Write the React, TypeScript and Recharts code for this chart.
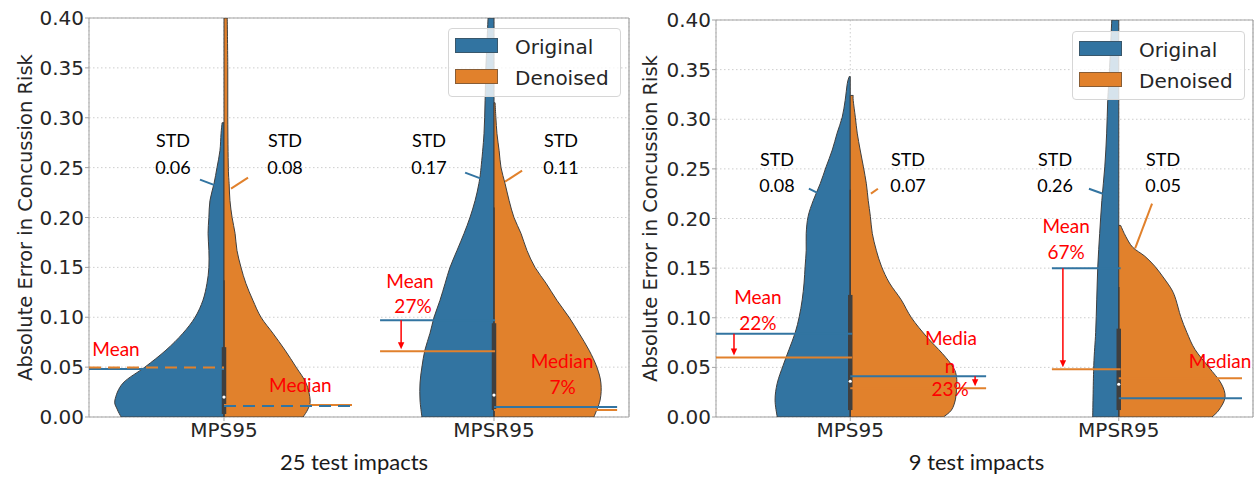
import React from 'react';
import { ComposedChart, Scatter, XAxis, YAxis, CartesianGrid, ReferenceLine, Legend } from 'recharts';

// ---------- data ----------
const categories = ['MPS95', 'MPSR95'];
const seriesNames = ['Original', 'Denoised'];
const yTicks = [0, 0.05, 0.1, 0.15, 0.2, 0.25, 0.3, 0.35, 0.4];
const panelTitles = ['25 test impacts', '9 test impacts'];

// Violin half profiles: [absolute error, half width in category units]
type Profile = [number, number][];

const mps95Original25: Profile = [
  [0, 0.381], [0.008, 0.396], [0.017, 0.404], [0.034, 0.374], [0.05, 0.293], [0.067, 0.215],
  [0.084, 0.152], [0.1, 0.107], [0.117, 0.078], [0.134, 0.063], [0.15, 0.056], [0.167, 0.056],
  [0.184, 0.059], [0.2, 0.056], [0.217, 0.052], [0.234, 0.037], [0.25, 0.026], [0.267, 0.015],
  [0.284, 0.011], [0.295, 0.007],
];
const mps95Denoised25: Profile = [
  [0, 0.293], [0.008, 0.311], [0.017, 0.319], [0.034, 0.304], [0.05, 0.267], [0.067, 0.226],
  [0.084, 0.181], [0.1, 0.137], [0.117, 0.107], [0.134, 0.081], [0.15, 0.063], [0.167, 0.048],
  [0.184, 0.041], [0.2, 0.03], [0.217, 0.022], [0.234, 0.019], [0.25, 0.016], [0.3, 0.014],
  [0.35, 0.014], [0.4, 0.012],
];
const mpsr95Original25: Profile = [
  [0, 0.267], [0.017, 0.274], [0.034, 0.274], [0.05, 0.267], [0.067, 0.256], [0.084, 0.237],
  [0.1, 0.222], [0.117, 0.2], [0.134, 0.181], [0.15, 0.163], [0.167, 0.137], [0.184, 0.111],
  [0.2, 0.089], [0.217, 0.07], [0.234, 0.056], [0.25, 0.048], [0.284, 0.037], [0.317, 0.033],
  [0.35, 0.03], [0.4, 0.022],
];
const mpsr95Denoised25: Profile = [
  [0, 0.37], [0.017, 0.393], [0.034, 0.396], [0.05, 0.381], [0.067, 0.352], [0.084, 0.315],
  [0.1, 0.278], [0.117, 0.233], [0.134, 0.193], [0.15, 0.152], [0.167, 0.122], [0.184, 0.1],
  [0.2, 0.074], [0.217, 0.056], [0.234, 0.041], [0.25, 0.026], [0.267, 0.019], [0.284, 0.011],
  [0.3, 0.007], [0.315, 0.004],
];
const mps95Original9: Profile = [
  [0, 0.272], [0.017, 0.28], [0.034, 0.272], [0.052, 0.25], [0.068, 0.228], [0.085, 0.205],
  [0.101, 0.19], [0.118, 0.179], [0.135, 0.172], [0.152, 0.168], [0.168, 0.164], [0.185, 0.164],
  [0.202, 0.157], [0.218, 0.138], [0.235, 0.112], [0.252, 0.09], [0.269, 0.067], [0.286, 0.049],
  [0.302, 0.03], [0.319, 0.019], [0.336, 0.011], [0.343, 0.004],
];
const mps95Denoised9: Profile = [
  [0, 0.347], [0.007, 0.377], [0.018, 0.392], [0.03, 0.396], [0.04, 0.396], [0.05, 0.384],
  [0.064, 0.343], [0.081, 0.284], [0.1, 0.228], [0.118, 0.19], [0.135, 0.146], [0.152, 0.116],
  [0.168, 0.097], [0.185, 0.082], [0.202, 0.075], [0.218, 0.067], [0.235, 0.06], [0.252, 0.049],
  [0.269, 0.037], [0.286, 0.026], [0.302, 0.019], [0.319, 0.011], [0.324, 0.011],
];
const mpsr95Original9: Profile = [
  [0, 0.097], [0.052, 0.093], [0.085, 0.086], [0.118, 0.082], [0.152, 0.078], [0.185, 0.071],
  [0.218, 0.063], [0.252, 0.052], [0.286, 0.045], [0.319, 0.041], [0.352, 0.034], [0.4, 0.026],
];
const mpsr95Denoised9: Profile = [
  [0, 0.347], [0.007, 0.373], [0.02, 0.396], [0.034, 0.381], [0.05, 0.336], [0.068, 0.284],
  [0.085, 0.254], [0.101, 0.231], [0.118, 0.213], [0.128, 0.198], [0.14, 0.168], [0.152, 0.134],
  [0.162, 0.097], [0.171, 0.052], [0.182, 0.026], [0.193, 0.007],
];

// Inner box plots (both groups pooled), one per category
type Box = { low: number; q1: number; median: number; q3: number; high: number };
const box25: Box[] = [
  { low: 0, q1: 0.003, median: 0.02, q3: 0.07, high: 0.137 },
  { low: 0, q1: 0.007, median: 0.022, q3: 0.094, high: 0.21 },
];
const box9: Box[] = [
  { low: 0, q1: 0.007, median: 0.036, q3: 0.123, high: 0.229 },
  { low: 0, q1: 0.007, median: 0.033, q3: 0.089, high: 0.131 },
];

const meanOriginal25 = [0.048, 0.097];
const meanDenoised25 = [0.0495, 0.066];
const medianOriginal25 = [0.011, 0.01];
const medianDenoised25 = [0.012, 0.007];
const meanOriginal9 = [0.084, 0.15];
const meanDenoised9 = [0.06, 0.048];
const medianOriginal9 = [0.041, 0.019];
const medianDenoised9 = [0.029, 0.039];

const stdOriginal25 = [0.06, 0.17];
const stdDenoised25 = [0.08, 0.11];
const stdOriginal9 = [0.08, 0.26];
const stdDenoised9 = [0.07, 0.05];

const meanChange25 = ['', '27%'];
const medianChange25 = ['', '7%'];
const meanChange9 = ['22%', '67%'];
const medianChange9 = ['23%', ''];

// ---------- styling ----------
const BLUE = '#3274a1';
const ORANGE = '#e1812c';
const EDGE = '#3f3f3f';
const SPINE = '#a3a3a3';
const GRID = '#cdcdcd';
const INK = '#262626';
const RED = '#ff0000';
const DEJAVU = "'DejaVu Sans', sans-serif";
const LATO = "Lato, 'Open Sans', sans-serif";
const seriesColors = [BLUE, ORANGE];

type Pt = { x: number; y: number };

const emptyShape = () => <g />;

function halfViolin(profile: Profile, center: number, side: number): Pt[] {
  const edge = profile.map(([v, w]) => ({ x: center + side * w, y: v }));
  return [...edge, { x: center, y: profile[profile.length - 1][0] }, { x: center, y: profile[0][0] }];
}

function violinLine(fill: string) {
  return (props: any) => {
    const pts: Pt[] = (props.points || []).filter((p: Pt) => Number.isFinite(p.x) && Number.isFinite(p.y));
    if (pts.length < 4) return <g />;
    const edge = pts.slice(0, -2);
    let d = `M${edge[0].x},${edge[0].y}`;
    for (let i = 0; i < edge.length - 1; i++) {
      const p0 = edge[Math.max(i - 1, 0)];
      const p1 = edge[i];
      const p2 = edge[i + 1];
      const p3 = edge[Math.min(i + 2, edge.length - 1)];
      d += ` C${p1.x + (p2.x - p0.x) / 6},${p1.y + (p2.y - p0.y) / 6} ${p2.x - (p3.x - p1.x) / 6},${p2.y - (p3.y - p1.y) / 6} ${p2.x},${p2.y}`;
    }
    const top = pts[pts.length - 2];
    const bottom = pts[pts.length - 1];
    d += ` L${top.x},${top.y} L${bottom.x},${bottom.y} Z`;
    return <path d={d} fill={fill} stroke={EDGE} strokeWidth={1} strokeLinejoin="round" />;
  };
}

function segmentLine(stroke: string, width: number, dash?: string) {
  return (props: any) => {
    const pts: Pt[] = props.points || [];
    if (pts.length < 2) return <g />;
    return (
      <path
        d={`M${pts[0].x},${pts[0].y} L${pts[1].x},${pts[1].y}`}
        fill="none"
        stroke={stroke}
        strokeWidth={width}
        strokeDasharray={dash}
      />
    );
  };
}

const arrowLine = (props: any) => {
  const pts: Pt[] = props.points || [];
  if (pts.length < 2) return <g />;
  const [a, b] = pts;
  const tipY = b.y - 2;
  const head = 7;
  return (
    <g>
      <path d={`M${a.x},${a.y} L${b.x},${tipY - head + 1}`} stroke={RED} strokeWidth={1.5} fill="none" />
      <path d={`M${b.x - 3.2},${tipY - head} L${b.x + 3.2},${tipY - head} L${b.x},${tipY} Z`} fill={RED} />
    </g>
  );
};

function textShape(fill: string, size: number) {
  return (props: any) => (
    <text
      x={props.cx}
      y={props.cy}
      textAnchor="middle"
      dominantBaseline="central"
      fontFamily={LATO}
      fontSize={size}
      fill={fill}
    >
      {props.payload?.text}
    </text>
  );
}

const medianDot = (props: any) => <circle cx={props.cx} cy={props.cy} r={1.6} fill="#ffffff" />;

function seg(key: string, a: Pt, b: Pt, stroke: string, width: number, dash?: string) {
  return (
    <Scatter
      key={key}
      data={[a, b]}
      line={segmentLine(stroke, width, dash)}
      shape={emptyShape}
      isAnimationActive={false}
      legendType="none"
    />
  );
}

// ---------- panel layout ----------
type Note = { x: number; y: number; text: string };
type PanelSpec = {
  width: number;
  axisWidth: number;
  top: number;
  title: string;
  titleShift: number;
  yTitleX: number;
  legendLeft: number;
  legendTop: number;
  violins: { original: Profile; denoised: Profile }[];
  boxes: Box[];
  meanOriginal: number[];
  meanDenoised: number[];
  medianOriginal: number[];
  medianDenoised: number[];
  meanSpan: [number, number][];
  medianSpan: [number, number][];
  meanDash: [boolean, boolean][];
  medianDash: [boolean, boolean][];
  arrows: { x: number; from: number; to: number }[];
  stdOriginal: number[];
  stdDenoised: number[];
  stdX: [number, number][];
  stdRows: [number, number];
  stdPointers: [Pt, Pt][][];
  notes: Note[];
};

const panel25: PanelSpec = {
  width: 630,
  axisWidth: 89,
  top: 18,
  title: panelTitles[0],
  titleShift: -5,
  yTitleX: 25,
  legendLeft: 448,
  legendTop: 28,
  violins: [
    { original: mps95Original25, denoised: mps95Denoised25 },
    { original: mpsr95Original25, denoised: mpsr95Denoised25 },
  ],
  boxes: box25,
  meanOriginal: meanOriginal25,
  meanDenoised: meanDenoised25,
  medianOriginal: medianOriginal25,
  medianDenoised: medianDenoised25,
  meanSpan: [[-0.5, 0], [0.578, 1.004]],
  medianSpan: [[0, 0.474], [1.0, 1.456]],
  meanDash: [[false, true], [false, false]],
  medianDash: [[true, false], [false, false]],
  arrows: [{ x: 0.656, from: meanOriginal25[1], to: meanDenoised25[1] }],
  stdOriginal: stdOriginal25,
  stdDenoised: stdDenoised25,
  stdX: [[-0.189, 0.226], [0.759, 1.248]],
  stdRows: [0.2777, 0.2506],
  stdPointers: [
    [[{ x: -0.089, y: 0.238 }, { x: -0.03, y: 0.232 }], [{ x: 0.089, y: 0.24 }, { x: 0.026, y: 0.229 }]],
    [[{ x: 0.893, y: 0.245 }, { x: 0.952, y: 0.239 }], [{ x: 1.104, y: 0.247 }, { x: 1.041, y: 0.236 }]],
  ],
  notes: [
    { x: -0.4, y: 0.069, text: 'Mean' },
    { x: 0.283, y: 0.033, text: 'Median' },
    { x: 0.689, y: 0.137, text: 'Mean' },
    { x: 0.7, y: 0.112, text: meanChange25[1] },
    { x: 1.252, y: 0.057, text: 'Median' },
    { x: 1.254, y: 0.031, text: medianChange25[1] },
  ],
};

const panel9: PanelSpec = {
  width: 624,
  axisWidth: 86,
  top: 20,
  title: panelTitles[1],
  titleShift: -8,
  yTitleX: 20,
  legendLeft: 442,
  legendTop: 31,
  violins: [
    { original: mps95Original9, denoised: mps95Denoised9 },
    { original: mpsr95Original9, denoised: mpsr95Denoised9 },
  ],
  boxes: box9,
  meanOriginal: meanOriginal9,
  meanDenoised: meanDenoised9,
  medianOriginal: medianOriginal9,
  medianDenoised: medianDenoised9,
  meanSpan: [[-0.5, 0.007], [0.751, 1.007]],
  medianSpan: [[0, 0.506], [1.0, 1.459]],
  meanDash: [[false, false], [false, false]],
  medianDash: [[false, false], [false, false]],
  arrows: [
    { x: -0.433, from: meanOriginal9[0], to: meanDenoised9[0] },
    { x: 0.465, from: medianOriginal9[0], to: medianDenoised9[0] },
    { x: 0.792, from: meanOriginal9[1], to: meanDenoised9[1] },
  ],
  stdOriginal: stdOriginal9,
  stdDenoised: stdDenoised9,
  stdX: [[-0.273, 0.215], [0.763, 1.165]],
  stdRows: [0.26, 0.234],
  stdPointers: [
    [[{ x: -0.154, y: 0.23 }, { x: -0.124, y: 0.226 }], [{ x: 0.103, y: 0.23 }, { x: 0.077, y: 0.225 }]],
    [[{ x: 0.889, y: 0.23 }, { x: 0.941, y: 0.225 }], [{ x: 1.124, y: 0.215 }, { x: 1.061, y: 0.17 }]],
  ],
  notes: [
    { x: -0.344, y: 0.121, text: 'Mean' },
    { x: -0.344, y: 0.095, text: meanChange9[0] },
    { x: 0.375, y: 0.08, text: 'Media' },
    { x: 0.372, y: 0.052, text: 'n' },
    { x: 0.372, y: 0.029, text: medianChange9[0] },
    { x: 0.804, y: 0.193, text: 'Mean' },
    { x: 0.804, y: 0.167, text: meanChange9[1] },
    { x: 1.377, y: 0.057, text: 'Median' },
  ],
};

const legendContent = () => (
  <div
    style={{
      position: 'relative',
      boxSizing: 'border-box',
      width: 173,
      height: 69,
      background: 'rgba(255,255,255,0.8)',
      border: '1px solid #d6d6d6',
      borderRadius: 4,
    }}
  >
    {seriesNames.map((name, i) => (
      <React.Fragment key={name}>
        <div
          style={{
            position: 'absolute',
            left: 6,
            top: 9 + i * 31,
            width: 43,
            height: 15,
            boxSizing: 'border-box',
            background: seriesColors[i],
            border: '1px solid rgba(63,63,63,0.55)',
          }}
        />
        <div
          style={{
            position: 'absolute',
            left: 66,
            top: 17.5 + i * 31,
            transform: 'translateY(-50%)',
            fontFamily: DEJAVU,
            fontSize: 20,
            lineHeight: 1,
            color: INK,
            whiteSpace: 'nowrap',
          }}
        >
          {name}
        </div>
      </React.Fragment>
    ))}
  </div>
);

function Panel({ spec }: { spec: PanelSpec }) {
  const items: React.ReactNode[] = [];

  spec.violins.forEach((v, i) => {
    items.push(
      <Scatter key={`vo${i}`} data={halfViolin(v.original, i, -1)} line={violinLine(BLUE)} shape={emptyShape} isAnimationActive={false} legendType="none" />,
      <Scatter key={`vd${i}`} data={halfViolin(v.denoised, i, 1)} line={violinLine(ORANGE)} shape={emptyShape} isAnimationActive={false} legendType="none" />,
    );
  });

  spec.boxes.forEach((b, i) => {
    items.push(seg(`wh${i}`, { x: i, y: b.low }, { x: i, y: b.high }, EDGE, 1.5));
    items.push(seg(`bx${i}`, { x: i, y: b.q1 }, { x: i, y: b.q3 }, EDGE, 4.5));
    items.push(
      <Scatter key={`md${i}`} data={[{ x: i, y: b.median }]} shape={medianDot} isAnimationActive={false} legendType="none" />,
    );
  });

  const DASH = '12 7';
  categories.forEach((_, i) => {
    const [m0, m1] = spec.meanSpan[i];
    const [d0, d1] = spec.medianSpan[i];
    // means: original below, denoised above
    items.push(seg(`mo${i}`, { x: m0, y: spec.meanOriginal[i] }, { x: m1, y: spec.meanOriginal[i] }, BLUE, 2, spec.meanDash[i][0] ? DASH : undefined));
    items.push(seg(`mdn${i}`, { x: m0, y: spec.meanDenoised[i] }, { x: m1, y: spec.meanDenoised[i] }, ORANGE, 2, spec.meanDash[i][1] ? DASH : undefined));
    // medians: denoised below, original above
    items.push(seg(`ed${i}`, { x: d0, y: spec.medianDenoised[i] }, { x: d1, y: spec.medianDenoised[i] }, ORANGE, 2, spec.medianDash[i][1] ? DASH : undefined));
    items.push(seg(`eo${i}`, { x: d0, y: spec.medianOriginal[i] }, { x: d1, y: spec.medianOriginal[i] }, BLUE, 2, spec.medianDash[i][0] ? DASH : undefined));
  });

  spec.arrows.forEach((a, i) => {
    items.push(
      <Scatter key={`ar${i}`} data={[{ x: a.x, y: a.from }, { x: a.x, y: a.to }]} line={arrowLine} shape={emptyShape} isAnimationActive={false} legendType="none" />,
    );
  });

  spec.stdPointers.forEach((pair, i) => {
    pair.forEach((p, s) => {
      items.push(seg(`sp${i}${s}`, p[0], p[1], seriesColors[s], 2));
    });
  });

  const stdNotes: Note[] = [];
  categories.forEach((_, i) => {
    [spec.stdOriginal[i], spec.stdDenoised[i]].forEach((val, s) => {
      stdNotes.push({ x: spec.stdX[i][s], y: spec.stdRows[0], text: 'STD' });
      stdNotes.push({ x: spec.stdX[i][s], y: spec.stdRows[1], text: val.toFixed(2) });
    });
  });
  items.push(
    <Scatter key="std" data={stdNotes} shape={textShape('#000000', 18)} isAnimationActive={false} legendType="none" />,
    <Scatter key="notes" data={spec.notes.filter((n) => n.text)} shape={textShape(RED, 19)} isAnimationActive={false} legendType="none" />,
  );

  const yTitle = (props: any) => {
    const vb = props.viewBox || props;
    const cx = vb.x + spec.yTitleX;
    const cy = vb.y + vb.height / 2;
    return (
      <text
        x={cx}
        y={cy}
        transform={`rotate(-90 ${cx} ${cy})`}
        textAnchor="middle"
        dominantBaseline="central"
        fontFamily={DEJAVU}
        fontSize={19.5}
        fill={INK}
      >
        Absolute Error in Concussion Risk
      </text>
    );
  };

  const xTitle = (props: any) => {
    const vb = props.viewBox || props;
    return (
      <text
        x={vb.x + vb.width / 2 + spec.titleShift}
        y={vb.y + 53}
        textAnchor="middle"
        fontFamily={LATO}
        fontSize={22}
        fill="#1a1a1a"
      >
        {spec.title}
      </text>
    );
  };

  return (
    <ComposedChart width={spec.width} height={480} margin={{ top: spec.top, right: 1, bottom: 0, left: 0 }}>
      <CartesianGrid stroke={GRID} strokeDasharray="1.5 2.5" />
      <XAxis
        type="number"
        dataKey="x"
        domain={[-0.5, 1.5]}
        ticks={[0, 1]}
        allowDataOverflow
        interval={0}
        height={63}
        tickSize={4}
        tickMargin={2}
        stroke={SPINE}
        tick={{ fontSize: 20, fill: INK, fontFamily: DEJAVU }}
        tickFormatter={(v: number) => categories[v]}
        label={xTitle}
      />
      <YAxis
        type="number"
        dataKey="y"
        domain={[0, 0.4]}
        ticks={yTicks}
        allowDataOverflow
        interval={0}
        width={spec.axisWidth}
        tickSize={4}
        tickMargin={1}
        stroke={SPINE}
        tick={{ fontSize: 20, fill: INK, fontFamily: DEJAVU }}
        tickFormatter={(v: number) => v.toFixed(2)}
        label={yTitle}
      />
      {items}
      <ReferenceLine y={0.4} stroke={SPINE} strokeWidth={1.2} />
      <ReferenceLine x={1.5} stroke={SPINE} strokeWidth={1.2} />
      <Legend
        layout="vertical"
        align="center"
        verticalAlign="middle"
        wrapperStyle={{ left: spec.legendLeft, top: spec.legendTop, width: 173, height: 69 }}
        content={legendContent}
      />
    </ComposedChart>
  );
}

export default function App() {
  return (
    <div style={{ position: 'absolute', left: 0, top: 0, width: 1254, height: 480, background: '#ffffff', overflow: 'hidden' }}>
      <div style={{ position: 'absolute', left: 0, top: 0 }}>
        <Panel spec={panel25} />
      </div>
      <div style={{ position: 'absolute', left: 630, top: 0 }}>
        <Panel spec={panel9} />
      </div>
    </div>
  );
}
